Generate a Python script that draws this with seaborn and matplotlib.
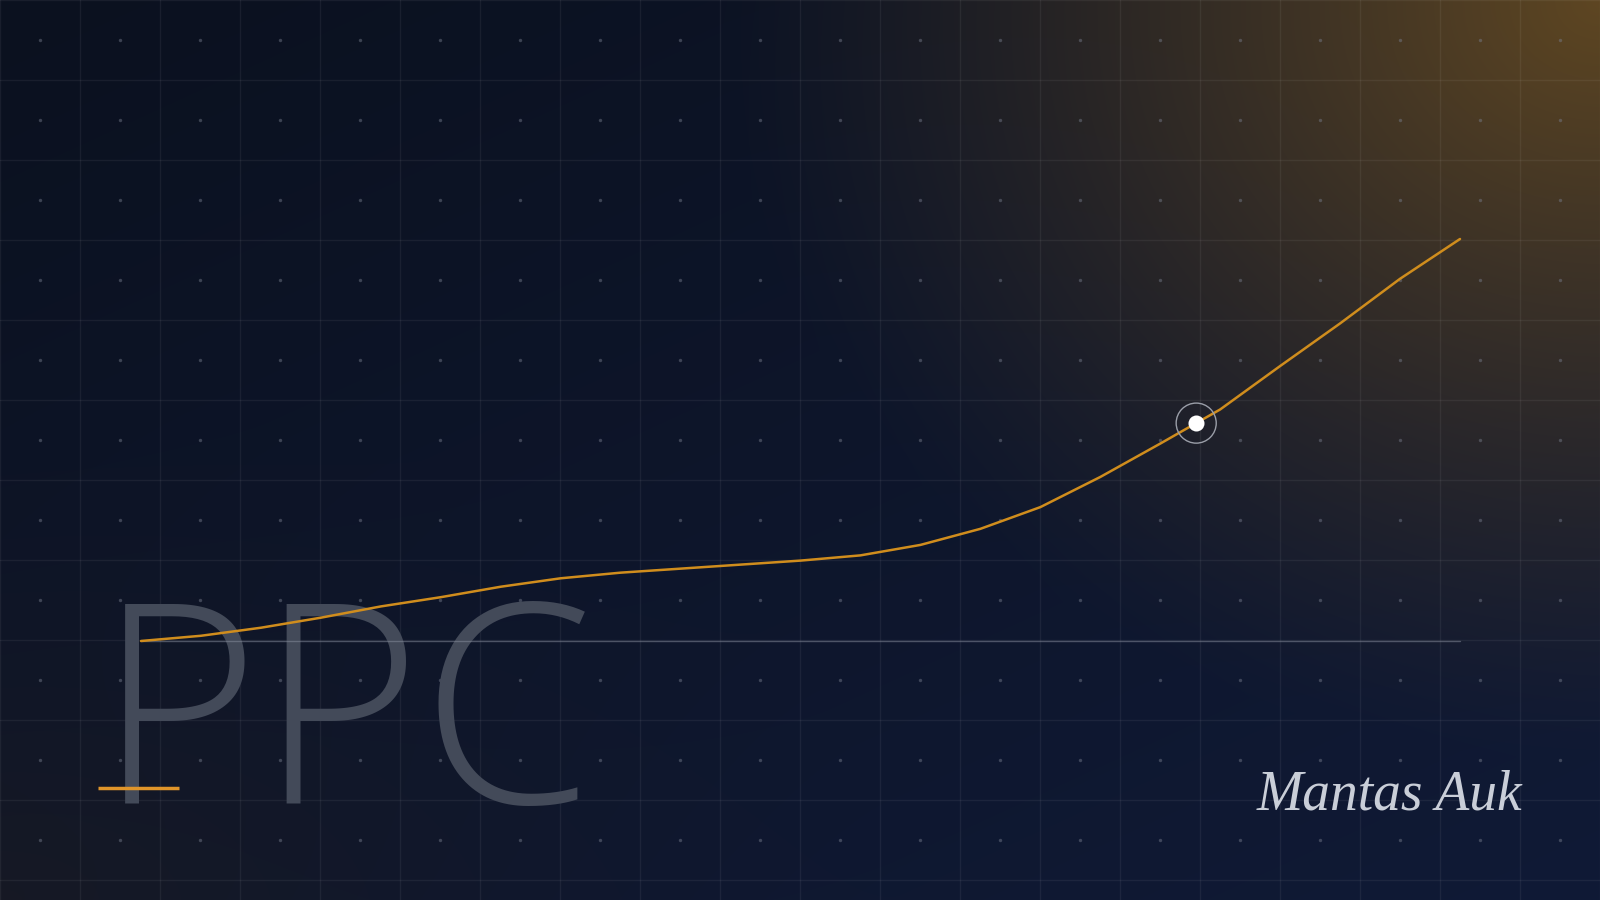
import numpy as np
import pandas as pd
import matplotlib.pyplot as plt
import seaborn as sns
from matplotlib.colors import to_rgb

# chart data: growth index, evenly spaced steps
steps = list(range(23))
values = [0, 1.3, 3.3, 5.8, 8.6, 10.9, 13.5, 15.6, 17.0, 18.0, 19.0, 20.0,
          21.3, 23.9, 27.9, 33.3, 40.8, 49.1, 57.6, 68.4, 79.0, 90.1, 100]
highlight_step = 17.6
title_text = 'PPC'
signature_text = 'Mantas Auk'

W, H = 1600, 900
LINE_COLOR = '#d08d1d'

sns.set_theme(style='dark')
plt.rcParams['font.family'] = ['Open Sans', 'DejaVu Sans']

fig = plt.figure(figsize=(16, 9), dpi=100)

# background: navy gradient with a warm glow from the top right corner
bg = fig.add_axes([0, 0, 1, 1])
yy, xx = np.mgrid[0:H, 0:W].astype(float)
t = (xx / W * 0.45 + yy / H * 0.55)
c0 = np.array(to_rgb('#0b111f'))
c1 = np.array(to_rgb('#101a36'))
img = c0 + (c1 - c0) * t[..., None]
# faint warm corner bottom left
d_bl = np.hypot(xx / 900, (H - yy) / 500)
warm = np.clip(1 - d_bl, 0, 1) ** 1.5
img = img + (np.array(to_rgb('#1c1b20')) - img) * warm[..., None] * 0.6
# golden glow
d = np.hypot((W - xx) / 880, yy / 760)
glow = np.clip(1 - d, 0, 1) ** 1.2
img = img + (np.array(to_rgb('#5e4622')) - img) * glow[..., None]
bg.imshow(np.clip(img, 0, 1), extent=(0, W, H, 0), aspect='auto', zorder=0)
bg.set_xlim(0, W)
bg.set_ylim(H, 0)
bg.axis('off')

# grid every 80 px with dots in the cell centers
for gx in range(0, W + 1, 80):
    bg.axvline(gx, color='white', alpha=0.06, lw=1, zorder=1)
for gy in range(0, H + 1, 80):
    bg.axhline(gy, color='white', alpha=0.06, lw=1, zorder=1)
dx, dy = np.meshgrid(np.arange(40, W, 80), np.arange(40, H, 80))
bg.scatter(dx.ravel(), dy.ravel(), s=6, color='#7a8090', alpha=0.45, lw=0, zorder=1)

# big title and accent
bg.text(97, 803, title_text, fontsize=200, fontweight='light', color='#434a59',
        ha='left', va='baseline', zorder=2)
bg.plot([98, 179], [788, 788], color='#e0952a', lw=2.5, solid_capstyle='butt', zorder=3)
bg.text(1389, 795, signature_text, fontsize=40, fontstyle='italic', color='#c9ced8',
        family=['Liberation Serif', 'DejaVu Serif'], ha='center', va='center', zorder=3)

# data axes mapped onto the canvas
ax = fig.add_axes([0, 0, 1, 1])
ax.patch.set_alpha(0)
px_x = (1460 - 141) / (len(steps) - 1)
px_y = (641 - 239) / 100
ax.set_xlim(-141 / px_x, (W - 141) / px_x)
ax.set_ylim(-(H - 641) / px_y, 641 / px_y)
ax.axis('off')

ax.plot([steps[0], steps[-1]], [0, 0], color='#8a90a0', alpha=0.5, lw=1, zorder=2)

df = pd.DataFrame({'step': steps, 'value': values})
sns.lineplot(data=df, x='step', y='value', color=LINE_COLOR, lw=1.8, ax=ax, zorder=3)
ax.lines[-1].set_solid_joinstyle('round')

hv = np.interp(highlight_step, steps, values)
ax.scatter([highlight_step], [hv], s=40 ** 2 * 0.52, facecolor='none',
           edgecolor='#9a9ea8', lw=1, zorder=4)
ax.scatter([highlight_step], [hv], s=16 ** 2 * 0.52, color='white', lw=0, zorder=5)

fig.savefig('out.png', dpi=100)
